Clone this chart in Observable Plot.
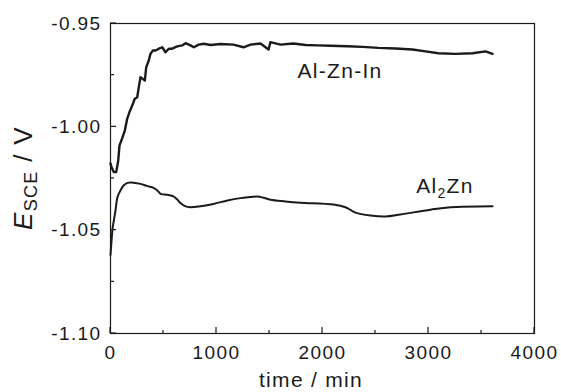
<!DOCTYPE html>
<html><head><meta charset="utf-8">
<script src="https://cdn.jsdelivr.net/npm/d3@7"></script>
<script src="https://cdn.jsdelivr.net/npm/@observablehq/plot@0.6"></script>
<style>body{margin:0;background:#fff}</style>
</head><body><div id="chart"></div>
<script>
// Al-Zn-In series: time (min) and potential E_SCE (V)
const alZnInTime = [0, 9, 31, 54, 73, 85, 110, 135, 158, 179, 205, 229, 252, 267, 283, 305, 324, 337, 361, 377, 399, 425, 456, 488, 519, 550, 582, 629, 676, 708, 755, 786, 833, 880, 943, 1038, 1160, 1255, 1321, 1415, 1491, 1509, 1604, 1726, 1840, 1953, 2075, 2236, 2377, 2528, 2689, 2849, 2972, 3094, 3255, 3415, 3538, 3604];
const alZnInE = [-1.0177, -1.0195, -1.0219, -1.0219, -1.0163, -1.0090, -1.0056, -1.0018, -0.9960, -0.9929, -0.9897, -0.9864, -0.9857, -0.9808, -0.9760, -0.9768, -0.9776, -0.9711, -0.9679, -0.9647, -0.9631, -0.9631, -0.9622, -0.9615, -0.9639, -0.9622, -0.9622, -0.9611, -0.9606, -0.9595, -0.9606, -0.9615, -0.9602, -0.9598, -0.9604, -0.9599, -0.9602, -0.9615, -0.9602, -0.9597, -0.9626, -0.9590, -0.9602, -0.9597, -0.9604, -0.9606, -0.9608, -0.9610, -0.9613, -0.9618, -0.9621, -0.9626, -0.9635, -0.9644, -0.9647, -0.9644, -0.9635, -0.9647];
// Al2Zn series
const al2ZnTime = [0, 10, 20, 35, 47, 66, 94, 123, 160, 198, 283, 349, 406, 443, 472, 538, 594, 632, 660, 708, 755, 849, 972, 1104, 1226, 1321, 1387, 1443, 1509, 1651, 1792, 2104, 2217, 2264, 2311, 2453, 2594, 2736, 3019, 3208, 3604];
const al2ZnE = [-1.062, -1.055, -1.049, -1.0443, -1.0405, -1.034, -1.0308, -1.0284, -1.0271, -1.0269, -1.0276, -1.0287, -1.0295, -1.0308, -1.0324, -1.0329, -1.0337, -1.0353, -1.0369, -1.0385, -1.0389, -1.0384, -1.0373, -1.0356, -1.0345, -1.0340, -1.0337, -1.0343, -1.0353, -1.0361, -1.0367, -1.0376, -1.0389, -1.0402, -1.0415, -1.0429, -1.0434, -1.0424, -1.0401, -1.0389, -1.0384];

const xTicks = [0, 1000, 2000, 3000, 4000];
const xMinorTicks = [500, 1500, 2500, 3500];
const yTicks = [-1.10, -1.05, -1.00, -0.95];
const yMinorTicks = [-1.075, -1.025, -0.975];
const seriesLabels = ["Al-Zn-In", "Al2Zn"];
const labelTime = [2170, 3160];
const labelE = [-0.9766, -1.0323];

const rowsA = alZnInTime.map((t, i) => ({t, e: alZnInE[i]}));
const rowsB = al2ZnTime.map((t, i) => ({t, e: al2ZnE[i]}));
const ink = "#1a1a1a";
const font = "'Liberation Sans', Arial, sans-serif";

const plot = Plot.plot({
  width: 561, height: 392,
  marginLeft: 110, marginRight: 27, marginTop: 23, marginBottom: 59,
  style: {fontFamily: font, fontSize: "19px", letterSpacing: "1.4px", color: ink, background: "#fff", overflow: "visible"},
  x: {domain: [0, 4000]},
  y: {domain: [-1.10, -0.95]},
  marks: [
    Plot.axisX({ticks: xTicks, tickSize: 0, tickPadding: 12, tickFormat: d => String(d), label: null}),
    Plot.axisY({ticks: yTicks, tickSize: 0, tickPadding: 9, tickFormat: d => d.toFixed(2), label: null}),
    Plot.frame({stroke: ink, strokeWidth: 1.2}),
    Plot.line(rowsA, {x: "t", y: "e", stroke: ink, strokeWidth: 2.4}),
    Plot.line(rowsB, {x: "t", y: "e", stroke: ink, strokeWidth: 2, curve: "catmull-rom"})
  ]
});
document.getElementById("chart").appendChild(plot);

const sx = plot.scale("x"), sy = plot.scale("y");
const svg = d3.select(plot);
const [x0] = sx.range, [y0] = sy.range;

// inward ticks, placed through the plot's scales
const tk = svg.append("g").attr("stroke", ink).attr("stroke-width", 1.2);
const xTickSets = [[xTicks, 6], [xMinorTicks, 3]];
for (const [vals, len] of xTickSets) {
  tk.selectAll(null).data(vals).join("line")
    .attr("x1", d => sx.apply(d)).attr("x2", d => sx.apply(d))
    .attr("y1", y0).attr("y2", y0 - len);
}
const yTickSets = [[yTicks, 6], [yMinorTicks, 4]];
for (const [vals, len] of yTickSets) {
  tk.selectAll(null).data(vals).join("line")
    .attr("y1", d => sy.apply(d)).attr("y2", d => sy.apply(d))
    .attr("x1", x0).attr("x2", x0 + len);
}

const g = svg.append("g").attr("font-family", font).attr("fill", ink).attr("letter-spacing", "1.3px");

// series annotations
g.append("text").attr("x", sx.apply(labelTime[0])).attr("y", sy.apply(labelE[0]))
  .attr("font-size", 21).text(seriesLabels[0]);
const t2 = g.append("text").attr("x", sx.apply(labelTime[1])).attr("y", sy.apply(labelE[1])).attr("font-size", 21);
t2.append("tspan").text(seriesLabels[1].slice(0, 2));
t2.append("tspan").attr("font-size", 14).attr("dy", 5).text(seriesLabels[1].slice(2, 3));
t2.append("tspan").attr("dy", -5).text(seriesLabels[1].slice(3));

// x axis title
g.append("text").attr("x", 311).attr("y", 387).attr("text-anchor", "middle")
  .attr("font-size", 21).text("time / min");

// y axis title
const yl = g.append("text").attr("transform", "translate(32,178) rotate(-90)")
  .attr("text-anchor", "middle").attr("font-size", 26);
yl.append("tspan").attr("font-style", "italic").text("E");
yl.append("tspan").attr("font-size", 18).attr("dy", 5).text("SCE");
yl.append("tspan").attr("dy", -5).text(" / V");
</script>
</body></html>
